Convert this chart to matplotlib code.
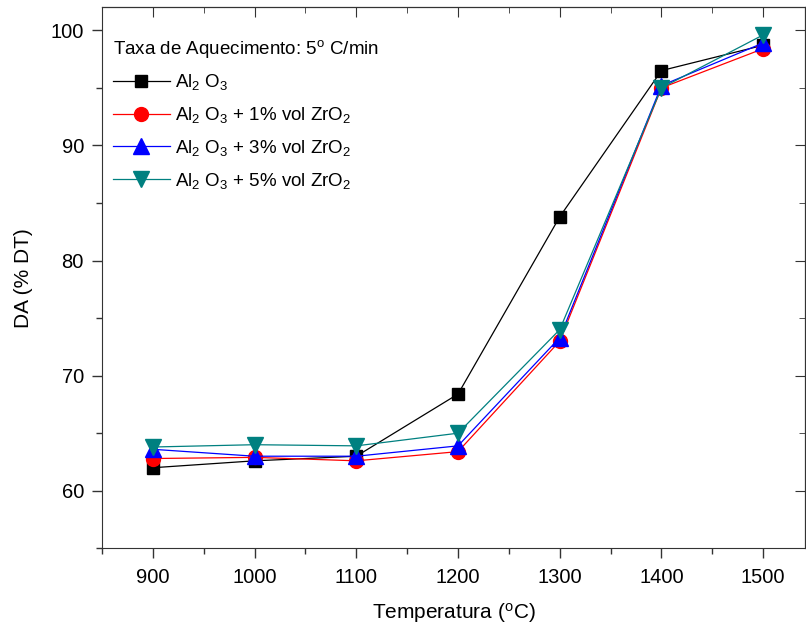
import matplotlib
matplotlib.use("Agg")
import matplotlib.pyplot as plt
from matplotlib.ticker import MultipleLocator

plt.rcParams['font.family'] = ['Liberation Sans', 'DejaVu Sans']
plt.rcParams['mathtext.fontset'] = 'custom'
plt.rcParams['mathtext.rm'] = 'Liberation Sans'
plt.rcParams['mathtext.it'] = 'Liberation Sans'

# temperaturas (C)
temperatura = [900, 1000, 1100, 1200, 1300, 1400, 1500]

# densidade aparente (% DT)
al2o3 = [62.0, 62.6, 63.0, 68.4, 83.8, 96.5, 98.7]
zr1 = [62.8, 62.9, 62.6, 63.4, 73.0, 95.0, 98.4]
zr3 = [63.6, 63.0, 63.0, 63.9, 73.3, 95.2, 98.9]
zr5 = [63.8, 64.0, 63.9, 65.0, 74.0, 95.0, 99.6]

labels = [r'Al$_2$ O$_3$',
          r'Al$_2$ O$_3$ + 1% vol ZrO$_2$',
          r'Al$_2$ O$_3$ + 3% vol ZrO$_2$',
          r'Al$_2$ O$_3$ + 5% vol ZrO$_2$']

fig = plt.figure(figsize=(8.06, 6.33), dpi=100)
ax = fig.add_axes([0.1266, 0.1338, 0.872, 0.8547])

ax.plot(temperatura, al2o3, color='black', marker='s', ms=9, lw=0.9, label=labels[0])
ax.plot(temperatura, zr1, color='red', marker='o', ms=10, lw=0.9, label=labels[1])
ax.plot(temperatura, zr3, color='blue', marker='^', ms=11, lw=0.9, label=labels[2])
ax.plot(temperatura, zr5, color='#008080', marker='v', ms=11, lw=0.9, label=labels[3])

ax.set_xlim(850, 1541)
ax.set_ylim(55, 102)
ax.set_xticks(temperatura)
ax.set_yticks([60, 70, 80, 90, 100])
ax.xaxis.set_minor_locator(MultipleLocator(50))
ax.yaxis.set_minor_locator(MultipleLocator(5))
ax.tick_params(which='both', direction='out', labelsize=14.5, colors='#333333', labelcolor='black')
ax.tick_params(which='major', length=7, width=1)
ax.tick_params(which='minor', length=4, width=1)
ax.tick_params(axis='x', pad=7)
ax.tick_params(axis='y', pad=6)

# eixos de cima e direita com ticks para dentro
top = ax.secondary_xaxis('top')
top.set_xticks(temperatura)
top.xaxis.set_minor_locator(MultipleLocator(50))
top.tick_params(which='both', direction='in', labeltop=False, colors='#333333')
top.tick_params(which='major', length=7)
top.tick_params(which='minor', length=4)
right = ax.secondary_yaxis('right')
right.set_yticks([60, 70, 80, 90, 100])
right.yaxis.set_minor_locator(MultipleLocator(5))
right.tick_params(which='both', direction='in', labelright=False, colors='#333333')
right.tick_params(which='major', length=7)
right.tick_params(which='minor', length=4)

for s in ax.spines.values():
    s.set_color('#333333')

ax.set_xlabel(r'Temperatura ($^\mathregular{o}$C)', fontsize=15, labelpad=10)
ax.set_ylabel('DA (% DT)', fontsize=15, labelpad=13)

leg = ax.legend(title=r'Taxa de Aquecimento: 5$^\mathregular{o}$ C/min', loc='upper left',
                bbox_to_anchor=(-0.008, 0.975), frameon=False, fontsize=13.5,
                title_fontsize=13.5, handlelength=3.0, labelspacing=0.68,
                handletextpad=0.3, borderaxespad=0.5)
leg._legend_box.align = 'left'

fig.savefig('out.png', dpi=100)
